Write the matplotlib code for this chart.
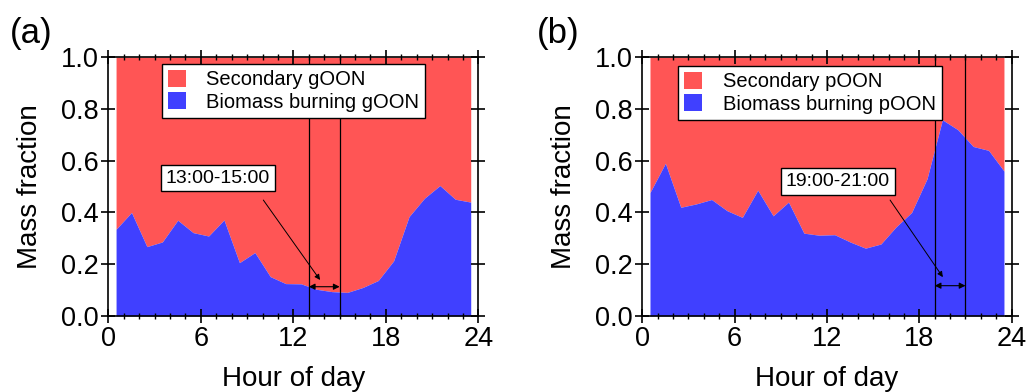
import matplotlib
matplotlib.use("Agg")
import matplotlib.pyplot as plt
import numpy as np

plt.rcParams['font.family'] = ['Liberation Sans', 'DejaVu Sans']

hours = [h + 0.5 for h in range(24)]
bb_goon = [0.335, 0.40, 0.268, 0.286, 0.37, 0.322, 0.309, 0.371, 0.206, 0.245,
           0.152, 0.125, 0.124, 0.103, 0.094, 0.091, 0.11, 0.137, 0.213, 0.384,
           0.455, 0.504, 0.451, 0.44]
bb_poon = [0.477, 0.59, 0.42, 0.433, 0.45, 0.407, 0.381, 0.486, 0.387, 0.44,
           0.32, 0.312, 0.314, 0.286, 0.262, 0.278, 0.345, 0.40, 0.53, 0.758,
           0.72, 0.655, 0.64, 0.56]

RED = '#FF5555'
BLUE = '#4040FF'

fig = plt.figure(figsize=(10.28, 3.92), dpi=100)
axA = fig.add_axes([0.1054, 0.194, 0.360, 0.660])
axB = fig.add_axes([0.6248, 0.194, 0.3593, 0.660])

panels = [
    dict(ax=axA, bb=bb_goon, name='gOON', tag='(a)', tagx=0.0097, lines=(13, 15),
         txt='13:00-15:00', txtpos=(7.08, 0.533), astart=(10.05, 0.448),
         atip=(13.73, 0.139), yarrow=0.113, legx=0.5, legy=0.974),
    dict(ax=axB, bb=bb_poon, name='pOON', tag='(b)', tagx=0.522, lines=(19, 21),
         txt='19:00-21:00', txtpos=(12.71, 0.519), astart=(16.1, 0.448),
         atip=(19.53, 0.15), yarrow=0.117, legx=0.454, legy=0.966),
]

for p in panels:
    ax = p['ax']
    x = np.array(hours)
    y = np.array(p['bb'])
    l1, l2 = p['lines']
    ax.fill_between(x, y, 1.0, color=RED, linewidth=0, label='Secondary ' + p['name'])
    ax.fill_between(x, 0, y, color=BLUE, linewidth=0, label='Biomass burning ' + p['name'])
    ax.axvline(l1, color='black', lw=0.9)
    ax.axvline(l2, color='black', lw=0.9)
    ax.set_xlim(0, 24)
    ax.set_ylim(0, 1.0)
    ax.set_xticks([0, 6, 12, 18, 24])
    ax.set_xticks(range(25), minor=True)
    ax.set_yticks([0, 0.2, 0.4, 0.6, 0.8, 1.0])
    ax.set_yticklabels(['0.0', '0.2', '0.4', '0.6', '0.8', '1.0'])
    ax.tick_params(which='major', direction='inout', length=10, width=1.2,
                   top=True, right=True, labelsize=19.5, pad=2)
    ax.tick_params(which='minor', direction='inout', length=5, width=1.0,
                   top=True, right=True)
    for s in ax.spines.values():
        s.set_linewidth(1.2)
    ax.set_xlabel('Hour of day', fontsize=20, labelpad=10)
    ax.set_ylabel('Mass fraction', fontsize=20, labelpad=13)
    leg = ax.legend(loc='upper center', bbox_to_anchor=(p['legx'], p['legy']), fontsize=14.5,
                    frameon=True, fancybox=False, edgecolor='black', framealpha=1,
                    handlelength=0.9, handleheight=0.9, handletextpad=1.0,
                    borderpad=0.3, labelspacing=0.15, borderaxespad=0)
    leg.get_frame().set_linewidth(1.0)
    # double arrow between lines
    ax.annotate('', xy=(l1, p['yarrow']), xytext=(l2, p['yarrow']),
                arrowprops=dict(arrowstyle='<|-|>', color='black', lw=0.8,
                                mutation_scale=9, shrinkA=0, shrinkB=0))
    # pointer arrow
    ax.annotate('', xy=p['atip'], xytext=p['astart'],
                arrowprops=dict(arrowstyle='-|>', color='black', lw=0.7,
                                mutation_scale=8, shrinkA=0, shrinkB=0))
    ax.text(p['txtpos'][0], p['txtpos'][1], p['txt'], fontsize=14, ha='center', va='center',
            bbox=dict(boxstyle='square,pad=0.25', fc='white', ec='black', lw=1.0))
    fig.text(p['tagx'], 0.890, p['tag'], fontsize=25, va='baseline')

fig.savefig('out.png', dpi=100)
